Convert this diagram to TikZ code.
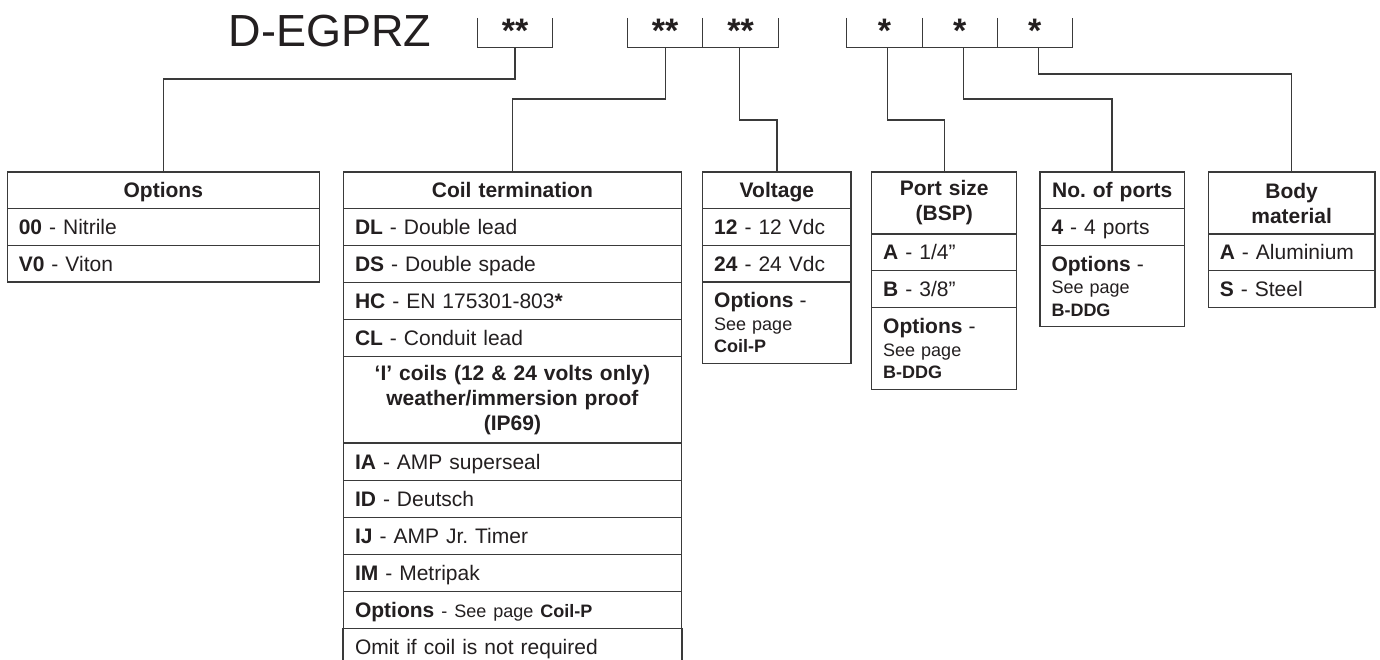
\documentclass[tikz,border=0pt]{standalone}
\usepackage{fontspec}
\setmainfont{Liberation Sans}
\frenchspacing
\definecolor{linecol}{HTML}{3A3A3A}
\definecolor{textcol}{HTML}{231F20}
\tikzset{
  cell/.style={draw=linecol, line width=1.4pt, inner xsep=11.5pt, inner ysep=0pt,
    font=\fontsize{21}{25}\selectfont, text=textcol},
  sl/.style={text height=15.2pt, text depth=0pt},
  smallcell/.style={font=\fontsize{18}{22.5}\selectfont},
  conn/.style={draw=linecol, line width=1.4pt},
  starlbl/.style={font=\bfseries\fontsize{34}{40}\selectfont, text=textcol, anchor=base, inner sep=0pt},
}
\newcommand\mkcell[7]{%
  \pgfmathsetmacro\mkW{#3-#2}%
  \pgfmathsetmacro\mkH{#5-#4}%
  \pgfmathsetmacro\mkT{#3-#2-23}%
  \pgfmathsetmacro\mkX{(#2+#3)/2}%
  \pgfmathsetmacro\mkY{(#4+#5)/2}%
  \node[cell, minimum width=\mkW pt, minimum height=\mkH pt, text width=\mkT pt, #6] (#1) at (\mkX,\mkY) {#7};%
}
\begin{document}
\begin{tikzpicture}[x=1pt,y=-1pt]
\useasboundingbox[fill=white] (0,0) rectangle (1380,660);

% title
\node[font=\fontsize{45}{54}\selectfont, text=textcol, anchor=base, inner sep=0pt] (title) at (330,46.7) {D-EGPRZ};

% brackets
\draw[conn] (477.7,18) -- (477.7,47.7) -- (552.3,47.7) -- (552.3,18);
\draw[conn] (627.7,18) -- (627.7,47.7) -- (778.3,47.7) -- (778.3,18);
\draw[conn] (702.7,18) -- (702.7,47.7);
\draw[conn] (846.7,18) -- (846.7,47.7) -- (1072.3,47.7) -- (1072.3,18);
\draw[conn] (922.3,18) -- (922.3,47.7);
\draw[conn] (997.3,18) -- (997.3,47.7);

% star labels
\node[starlbl] (s1) at (515,42.5) {**};
\node[starlbl] (s2) at (665.2,42.5) {**};
\node[starlbl] (s3) at (740.5,42.5) {**};
\node[starlbl] (s4) at (884.5,42.5) {*};
\node[starlbl] (s5) at (959.8,42.5) {*};
\node[starlbl] (s6) at (1034.8,42.5) {*};

% tick coordinates
\coordinate (k1) at (515,47.7);
\coordinate (k2) at (665.7,47.7);
\coordinate (k3) at (739.3,47.7);
\coordinate (k4) at (887.3,47.7);
\coordinate (k5) at (963.3,47.7);
\coordinate (k6) at (1038.3,47.7);
\coordinate (h74) at (0,74);
\coordinate (h79) at (0,79);
\coordinate (h99) at (0,99);
\coordinate (h120) at (0,120);
\coordinate (bot) at (0,660);

% Options table
\mkcell{o0}{7.3}{319.3}{172}{208.3}{align=center,sl}{\textbf{Options}}
\mkcell{o1}{7.3}{319.3}{208.3}{245.3}{align=left,sl}{\textbf{00} - Nitrile}
\mkcell{o2}{7.3}{319.3}{245.3}{282}{align=left,sl}{\textbf{V0} - Viton}

% Coil termination table
\mkcell{c0}{343.5}{681.3}{172}{208.5}{align=center,sl}{\textbf{Coil termination}}
\mkcell{c1}{343.5}{681.3}{208.5}{245.5}{align=left,sl}{\textbf{DL} - Double lead}
\mkcell{c2}{343.5}{681.3}{245.5}{282.5}{align=left,sl}{\textbf{DS} - Double spade}
\mkcell{c3}{343.5}{681.3}{282.5}{319.5}{align=left,sl}{\textbf{HC} - EN 175301-803\textbf{*}}
\mkcell{c4}{343.5}{681.3}{319.5}{356.5}{align=left,sl}{\textbf{CL} - Conduit lead}
\mkcell{c5}{343.5}{681.3}{356.5}{443}{align=center}{\textbf{‘I’ coils (12 \& 24 volts only)}\\\textbf{weather/immersion proof}\\\textbf{(IP69)}}
\mkcell{c6}{343.5}{681.3}{443}{480.5}{align=left,sl}{\textbf{IA} - AMP superseal}
\mkcell{c7}{343.5}{681.3}{480.5}{517.5}{align=left,sl}{\textbf{ID} - Deutsch}
\mkcell{c8}{343.5}{681.3}{517.5}{554.5}{align=left,sl}{\textbf{IJ} - AMP Jr. Timer}
\mkcell{c9}{343.5}{681.3}{554.5}{591.5}{align=left,sl}{\textbf{IM} - Metripak}
\mkcell{c10}{343.5}{681.3}{591.5}{628.5}{align=left,sl}{\textbf{Options}{\fontsize{18}{22}\selectfont{} - See page \textbf{Coil-P}}}
\mkcell{c11}{343.5}{681.3}{628.5}{665.5}{align=left,sl,draw=none}{Omit if coil is not required}
\draw[conn] (c11.north west) -- (c11.north west |- bot);
\draw[conn] (c11.north east) -- (c11.north east |- bot);

% Voltage table
\mkcell{v0}{702.7}{851}{172}{208.3}{align=center,sl}{\textbf{Voltage}}
\mkcell{v1}{702.7}{851}{208.3}{245.3}{align=left,sl}{\textbf{12} - 12 Vdc}
\mkcell{v2}{702.7}{851}{245.3}{282}{align=left,sl}{\textbf{24} - 24 Vdc}
\mkcell{v3}{702.7}{851}{282}{363.3}{align=left,smallcell}{{\fontsize{21}{22.5}\selectfont\textbf{Options} -}\\See page\\\textbf{Coil-P}}

% Port size table
\mkcell{p0}{871.7}{1016.7}{172}{234}{align=center}{\textbf{Port size}\\\textbf{(BSP)}}
\mkcell{p1}{871.7}{1016.7}{234}{270.7}{align=left,sl}{\textbf{A} - 1/4”}
\mkcell{p2}{871.7}{1016.7}{270.7}{307.7}{align=left,sl}{\textbf{B} - 3/8”}
\mkcell{p3}{871.7}{1016.7}{307.7}{389.3}{align=left,smallcell}{{\fontsize{21}{22.5}\selectfont\textbf{Options} -}\\See page\\\textbf{B-DDG}}

% No. of ports table
\mkcell{n0}{1040}{1184.3}{172}{208.3}{align=center,sl,inner xsep=2pt,text width=140pt}{\textbf{No. of ports}}
\mkcell{n1}{1040}{1184.3}{208.3}{245.3}{align=left,sl}{\textbf{4} - 4 ports}
\mkcell{n2}{1040}{1184.3}{245.3}{326.7}{align=left,smallcell}{{\fontsize{21}{22.5}\selectfont\textbf{Options} -}\\See page\\\textbf{B-DDG}}

% Body material table
\mkcell{b0}{1208.3}{1375}{172}{234}{align=center}{\textbf{Body}\\\textbf{material}}
\mkcell{b1}{1208.3}{1375}{234}{270.7}{align=left,sl}{\textbf{A} - Aluminium}
\mkcell{b2}{1208.3}{1375}{270.7}{307.3}{align=left,sl}{\textbf{S} - Steel}

% connectors
\draw[conn] (k1) -- (k1 |- h79) -| (o0.north);
\draw[conn] (k2) -- (k2 |- h99) -| (c0.north);
\draw[conn] (k3) -- (k3 |- h120) -| (v0.north);
\draw[conn] (k4) -- (k4 |- h120) -| (p0.north);
\draw[conn] (k5) -- (k5 |- h99) -| (n0.north);
\draw[conn] (k6) -- (k6 |- h74) -| (b0.north);
\end{tikzpicture}
\end{document}
